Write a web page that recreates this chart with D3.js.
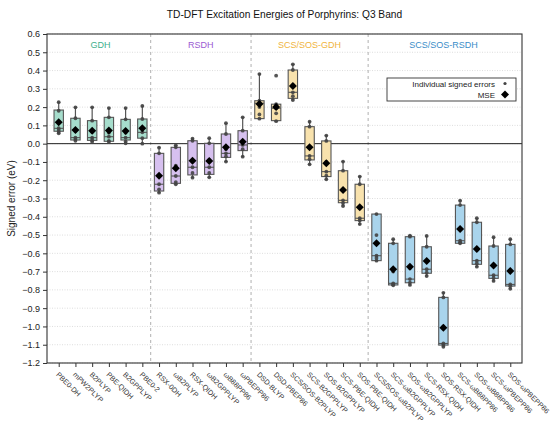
<!DOCTYPE html>
<html>
<head>
<meta charset="utf-8">
<script src="https://cdn.jsdelivr.net/npm/d3@7"></script>
<style>
  body { margin: 0; background: #fff; }
  text { font-family: "Liberation Sans", Arial, sans-serif; }
</style>
</head>
<body>
<svg width="550" height="442"></svg>
<script>
// methods, in plot order
var methods = ["PBE0-DH", "mPW2PLYP", "B2PLYP", "PBE-QIDH", "B2GPPLYP", "PBE0-2",
    "RSX-0DH", "ωB2PLYP", "RSX-QIDH", "ωB2GPPLYP", "ωB88PP86", "ωPBEPP86",
    "DSD-BLYP", "DSD-PBEP86", "SCS/SOS-B2PLYP", "SCS-B2GPPLYP", "SOS-B2GPPLYP", "SCS-PBE-QIDH", "SOS-PBE-QIDH",
    "SCS/SOS-ωB2PLYP", "SCS-ωB2GPPLYP", "SOS-ωB2GPPLYP", "SCS-RSX-QIDH", "SOS-RSX-QIDH",
    "SCS-ωB88PP86", "SOS-ωB88PP86", "SCS-ωPBEPP86", "SOS-ωPBEPP86"];

var groupNames = ["GDH", "RSDH", "SCS/SOS-GDH", "SCS/SOS-RSDH"];
var groupSizes = [6, 6, 7, 9];

// box statistics (eV)
var whiskerLo = [0.057, 0.016, 0.011, 0.011, 0.002, 0.0,
    -0.268, -0.222, -0.186, -0.184, -0.098, -0.071,
    0.137, 0.123, 0.239, -0.113, -0.195, -0.341, -0.44,
    -0.64, -0.775, -0.773, -0.724, -1.111, -0.545, -0.673, -0.751, -0.794];
var q1 = [0.068, 0.02, 0.018, 0.013, 0.02, 0.03,
    -0.259, -0.217, -0.171, -0.168, -0.075, -0.038,
    0.137, 0.126, 0.248, -0.089, -0.18, -0.323, -0.421,
    -0.64, -0.773, -0.761, -0.709, -1.102, -0.545, -0.66, -0.737, -0.779];
var median = [0.084, 0.033, 0.033, 0.038, 0.033, 0.062,
    -0.222, -0.177, -0.129, -0.129, -0.053, -0.007,
    0.221, 0.194, 0.281, -0.067, -0.153, -0.31, -0.408,
    -0.613, -0.764, -0.741, -0.687, -1.093, -0.531, -0.64, -0.72, -0.77];
var q3 = [0.184, 0.139, 0.126, 0.144, 0.133, 0.135,
    -0.053, -0.02, 0.016, 0.002, 0.053, 0.071,
    0.235, 0.216, 0.403, 0.093, 0.015, -0.148, -0.222,
    -0.385, -0.545, -0.509, -0.564, -0.841, -0.336, -0.43, -0.56, -0.551];
var whiskerHi = [0.227, 0.199, 0.199, 0.195, 0.195, 0.206,
    -0.022, -0.009, 0.027, 0.03, 0.112, 0.144,
    0.381, 0.216, 0.434, 0.12, 0.044, -0.098, -0.18,
    -0.385, -0.523, -0.503, -0.505, -0.816, -0.312, -0.408, -0.512, -0.523];
var mse = [0.117, 0.075, 0.071, 0.072, 0.069, 0.084,
    -0.175, -0.135, -0.093, -0.095, -0.02, 0.011,
    0.217, 0.2, 0.316, -0.02, -0.107, -0.253, -0.348,
    -0.545, -0.687, -0.673, -0.642, -1.007, -0.467, -0.576, -0.667, -0.697];

// individual signed errors
var errors = [
    [0.227, 0.18, 0.12, 0.085, 0.075, 0.065, 0.057],
    [0.199, 0.139, 0.07, 0.033, 0.025, 0.016],
    [0.199, 0.126, 0.065, 0.033, 0.02, 0.011],
    [0.195, 0.144, 0.06, 0.038, 0.015, 0.011],
    [0.195, 0.133, 0.06, 0.033, 0.012, 0.002],
    [0.206, 0.135, 0.08, 0.062, 0.03, 0.0],
    [-0.022, -0.053, -0.18, -0.222, -0.25, -0.268],
    [-0.009, -0.02, -0.12, -0.177, -0.21, -0.222],
    [0.027, 0.016, -0.09, -0.129, -0.16, -0.186],
    [0.03, 0.002, -0.09, -0.129, -0.16, -0.184],
    [0.112, 0.053, -0.03, -0.053, -0.07, -0.098],
    [0.144, 0.071, 0.01, -0.007, -0.03, -0.071],
    [0.381, 0.235, 0.221, 0.2, 0.16, 0.137],
    [0.372, 0.216, 0.2, 0.194, 0.166, 0.123],
    [0.434, 0.403, 0.32, 0.281, 0.26, 0.239],
    [0.12, 0.093, -0.02, -0.067, -0.085, -0.113],
    [0.044, 0.015, -0.1, -0.153, -0.175, -0.195],
    [-0.098, -0.148, -0.25, -0.31, -0.325, -0.341],
    [-0.18, -0.222, -0.35, -0.408, -0.42, -0.44],
    [-0.385, -0.5, -0.613, -0.625, -0.64],
    [-0.523, -0.545, -0.7, -0.764, -0.77, -0.775],
    [-0.503, -0.509, -0.68, -0.741, -0.76, -0.773],
    [-0.505, -0.564, -0.64, -0.687, -0.705, -0.724],
    [-0.816, -0.841, -1.0, -1.093, -1.1, -1.111],
    [-0.312, -0.336, -0.47, -0.531, -0.54, -0.545],
    [-0.408, -0.43, -0.58, -0.64, -0.655, -0.673],
    [-0.512, -0.56, -0.66, -0.72, -0.735, -0.751],
    [-0.523, -0.551, -0.7, -0.77, -0.78, -0.794]
];

var yTicks = d3.range(-12, 7).map(function(d) { return d / 10; });

var fills = ["#a6ddcc", "#d6c0ef", "#f8e2ad", "#a9d4ec"];
var labelColors = ["#3db08c", "#9b5bd2", "#f0b43c", "#3a8dc8"];

var svg = d3.select("svg"),
    margin = {top: 34, right: 28, bottom: 79, left: 47},
    width = +svg.attr("width") - margin.left - margin.right,
    height = +svg.attr("height") - margin.top - margin.bottom;

var groupOf = [];
groupSizes.forEach(function(n, g) { for (let i = 0; i < n; i++) groupOf.push(g); });

var x = d3.scalePoint()
    .domain(methods)
    .range([0, width])
    .padding(0.7);
var y = d3.scaleLinear()
    .domain([-1.2, 0.6])
    .range([height, 0]);
var step = x.step();
var boxW = step * 0.56;

var focus = svg.append("g")
    .attr("transform", "translate(" + margin.left + "," + margin.top + ")");

// grid
focus.append("g")
    .selectAll("line")
    .data(yTicks)
    .enter().append("line")
    .attr("x1", 0).attr("x2", width)
    .attr("y1", function(d) { return y(d); })
    .attr("y2", function(d) { return y(d); })
    .style("stroke", "#d4d4d4")
    .style("stroke-width", 0.8)
    .style("stroke-dasharray", "1,1.5");

// group separators
var cum = 0;
var sepIdx = [];
var groupCenters = [];
groupSizes.forEach(function(n, g) {
    groupCenters.push(x(methods[cum]) + (n - 1) * step / 2);
    cum += n;
    if (g < groupSizes.length - 1) sepIdx.push(cum);
});
focus.append("g")
    .selectAll("line")
    .data(sepIdx)
    .enter().append("line")
    .attr("x1", function(d) { return x(methods[d]) - step / 2; })
    .attr("x2", function(d) { return x(methods[d]) - step / 2; })
    .attr("y1", 0).attr("y2", height)
    .style("stroke", "#b0b0b0")
    .style("stroke-width", 1)
    .style("stroke-dasharray", "3,3");

// zero line
focus.append("line")
    .attr("x1", 0).attr("x2", width)
    .attr("y1", y(0)).attr("y2", y(0))
    .style("stroke", "#222")
    .style("stroke-width", 1);

// group labels
focus.append("g")
    .selectAll("text")
    .data(groupNames)
    .enter().append("text")
    .attr("x", function(d, i) { return groupCenters[i]; })
    .attr("y", 14)
    .attr("text-anchor", "middle")
    .style("font-size", "9px")
    .style("fill", function(d, i) { return labelColors[i]; })
    .text(function(d) { return d; });

// boxes
var boxes = focus.append("g")
    .selectAll("g")
    .data(methods)
    .enter().append("g")
    .attr("transform", function(d) { return "translate(" + x(d) + ",0)"; });

boxes.append("line")
    .attr("y1", function(d, i) { return y(whiskerLo[i]); })
    .attr("y2", function(d, i) { return y(whiskerHi[i]); })
    .style("stroke", "#555")
    .style("stroke-width", 1.2);

boxes.append("rect")
    .attr("x", -boxW / 2)
    .attr("width", boxW)
    .attr("y", function(d, i) { return y(q3[i]); })
    .attr("height", function(d, i) { return y(q1[i]) - y(q3[i]); })
    .style("fill", function(d, i) { return fills[groupOf[i]]; })
    .style("stroke", "#555")
    .style("stroke-width", 1.1);

boxes.append("line")
    .attr("x1", -boxW / 2).attr("x2", boxW / 2)
    .attr("y1", function(d, i) { return y(median[i]); })
    .attr("y2", function(d, i) { return y(median[i]); })
    .style("stroke", "#555")
    .style("stroke-width", 1.1);

// whisker caps
boxes.selectAll(".cap")
    .data(function(d, i) { return [whiskerLo[i], whiskerHi[i]]; })
    .enter().append("line")
    .attr("class", "cap")
    .attr("x1", -1.5).attr("x2", 1.5)
    .attr("y1", function(v) { return y(v); })
    .attr("y2", function(v) { return y(v); })
    .style("stroke", "#555");

// individual errors
boxes.selectAll(".pt")
    .data(function(d, i) { return errors[i]; })
    .enter().append("circle")
    .attr("class", "pt")
    .attr("cx", 0)
    .attr("cy", function(v) { return y(v); })
    .attr("r", 1.9)
    .style("fill", "#444")
    .style("opacity", 0.9);

// MSE diamonds
var diamond = d3.symbol().type(d3.symbolSquare).size(32);
boxes.append("path")
    .attr("d", diamond)
    .attr("transform", function(d, i) { return "translate(0," + y(mse[i]) + ") rotate(45)"; })
    .style("fill", "#000");

// axes
var yAxis = d3.axisLeft(y)
    .tickValues(yTicks)
    .tickSize(4)
    .tickPadding(3)
    .tickFormat(function(d) { return d3.format(".1f")(d).replace("-", "\u2212"); });
var gy = focus.append("g").call(yAxis);
gy.select(".domain").remove();
gy.selectAll("text").style("font-size", "9px").style("fill", "#222")
    .style("font-family", "Liberation Sans, Arial, sans-serif");
gy.selectAll("line").style("stroke", "#333");

var xAxis = d3.axisBottom(x).tickSize(4).tickFormat("");
var gx = focus.append("g")
    .attr("transform", "translate(0," + height + ")")
    .call(xAxis);
gx.select(".domain").remove();
gx.selectAll("line").style("stroke", "#333");

focus.append("g")
    .attr("transform", "translate(0," + height + ")")
    .selectAll("text")
    .data(methods)
    .enter().append("text")
    .attr("transform", function(d) { return "translate(" + (x(d) - 3) + ",12) rotate(45)"; })
    .attr("text-anchor", "start")
    .style("font-size", "7.2px")
    .style("fill", "#333")
    .text(function(d) { return d; });

// frame
focus.append("rect")
    .attr("width", width)
    .attr("height", height)
    .style("fill", "none")
    .style("stroke", "#333")
    .style("stroke-width", 1.1);

// legend
var legend = focus.append("g")
    .attr("transform", "translate(" + (width - 135) + ",44)");
legend.append("rect")
    .attr("width", 129)
    .attr("height", 23)
    .style("fill", "#fff")
    .style("stroke", "#333")
    .style("stroke-width", 0.9);
legend.append("text")
    .attr("x", 108).attr("y", 8.5)
    .attr("text-anchor", "end")
    .style("font-size", "8px")
    .style("fill", "#222")
    .text("Individual signed errors");
legend.append("circle")
    .attr("cx", 118).attr("cy", 5.5).attr("r", 1.6)
    .style("fill", "#444");
legend.append("text")
    .attr("x", 108).attr("y", 19.5)
    .attr("text-anchor", "end")
    .style("font-size", "8px")
    .style("fill", "#222")
    .text("MSE");
legend.append("path")
    .attr("d", diamond)
    .attr("transform", "translate(118,16.5) rotate(45)")
    .style("fill", "#000");

// title and y label
svg.append("text")
    .attr("x", margin.left + width / 2)
    .attr("y", 18)
    .attr("text-anchor", "middle")
    .style("font-size", "10.2px")
    .style("fill", "#111")
    .text("TD-DFT Excitation Energies of Porphyrins: Q3 Band");

svg.append("text")
    .attr("transform", "translate(15," + (margin.top + height / 2) + ") rotate(-90)")
    .attr("text-anchor", "middle")
    .style("font-size", "10px")
    .style("fill", "#222")
    .text("Signed error (eV)");
</script>
</body>
</html>
